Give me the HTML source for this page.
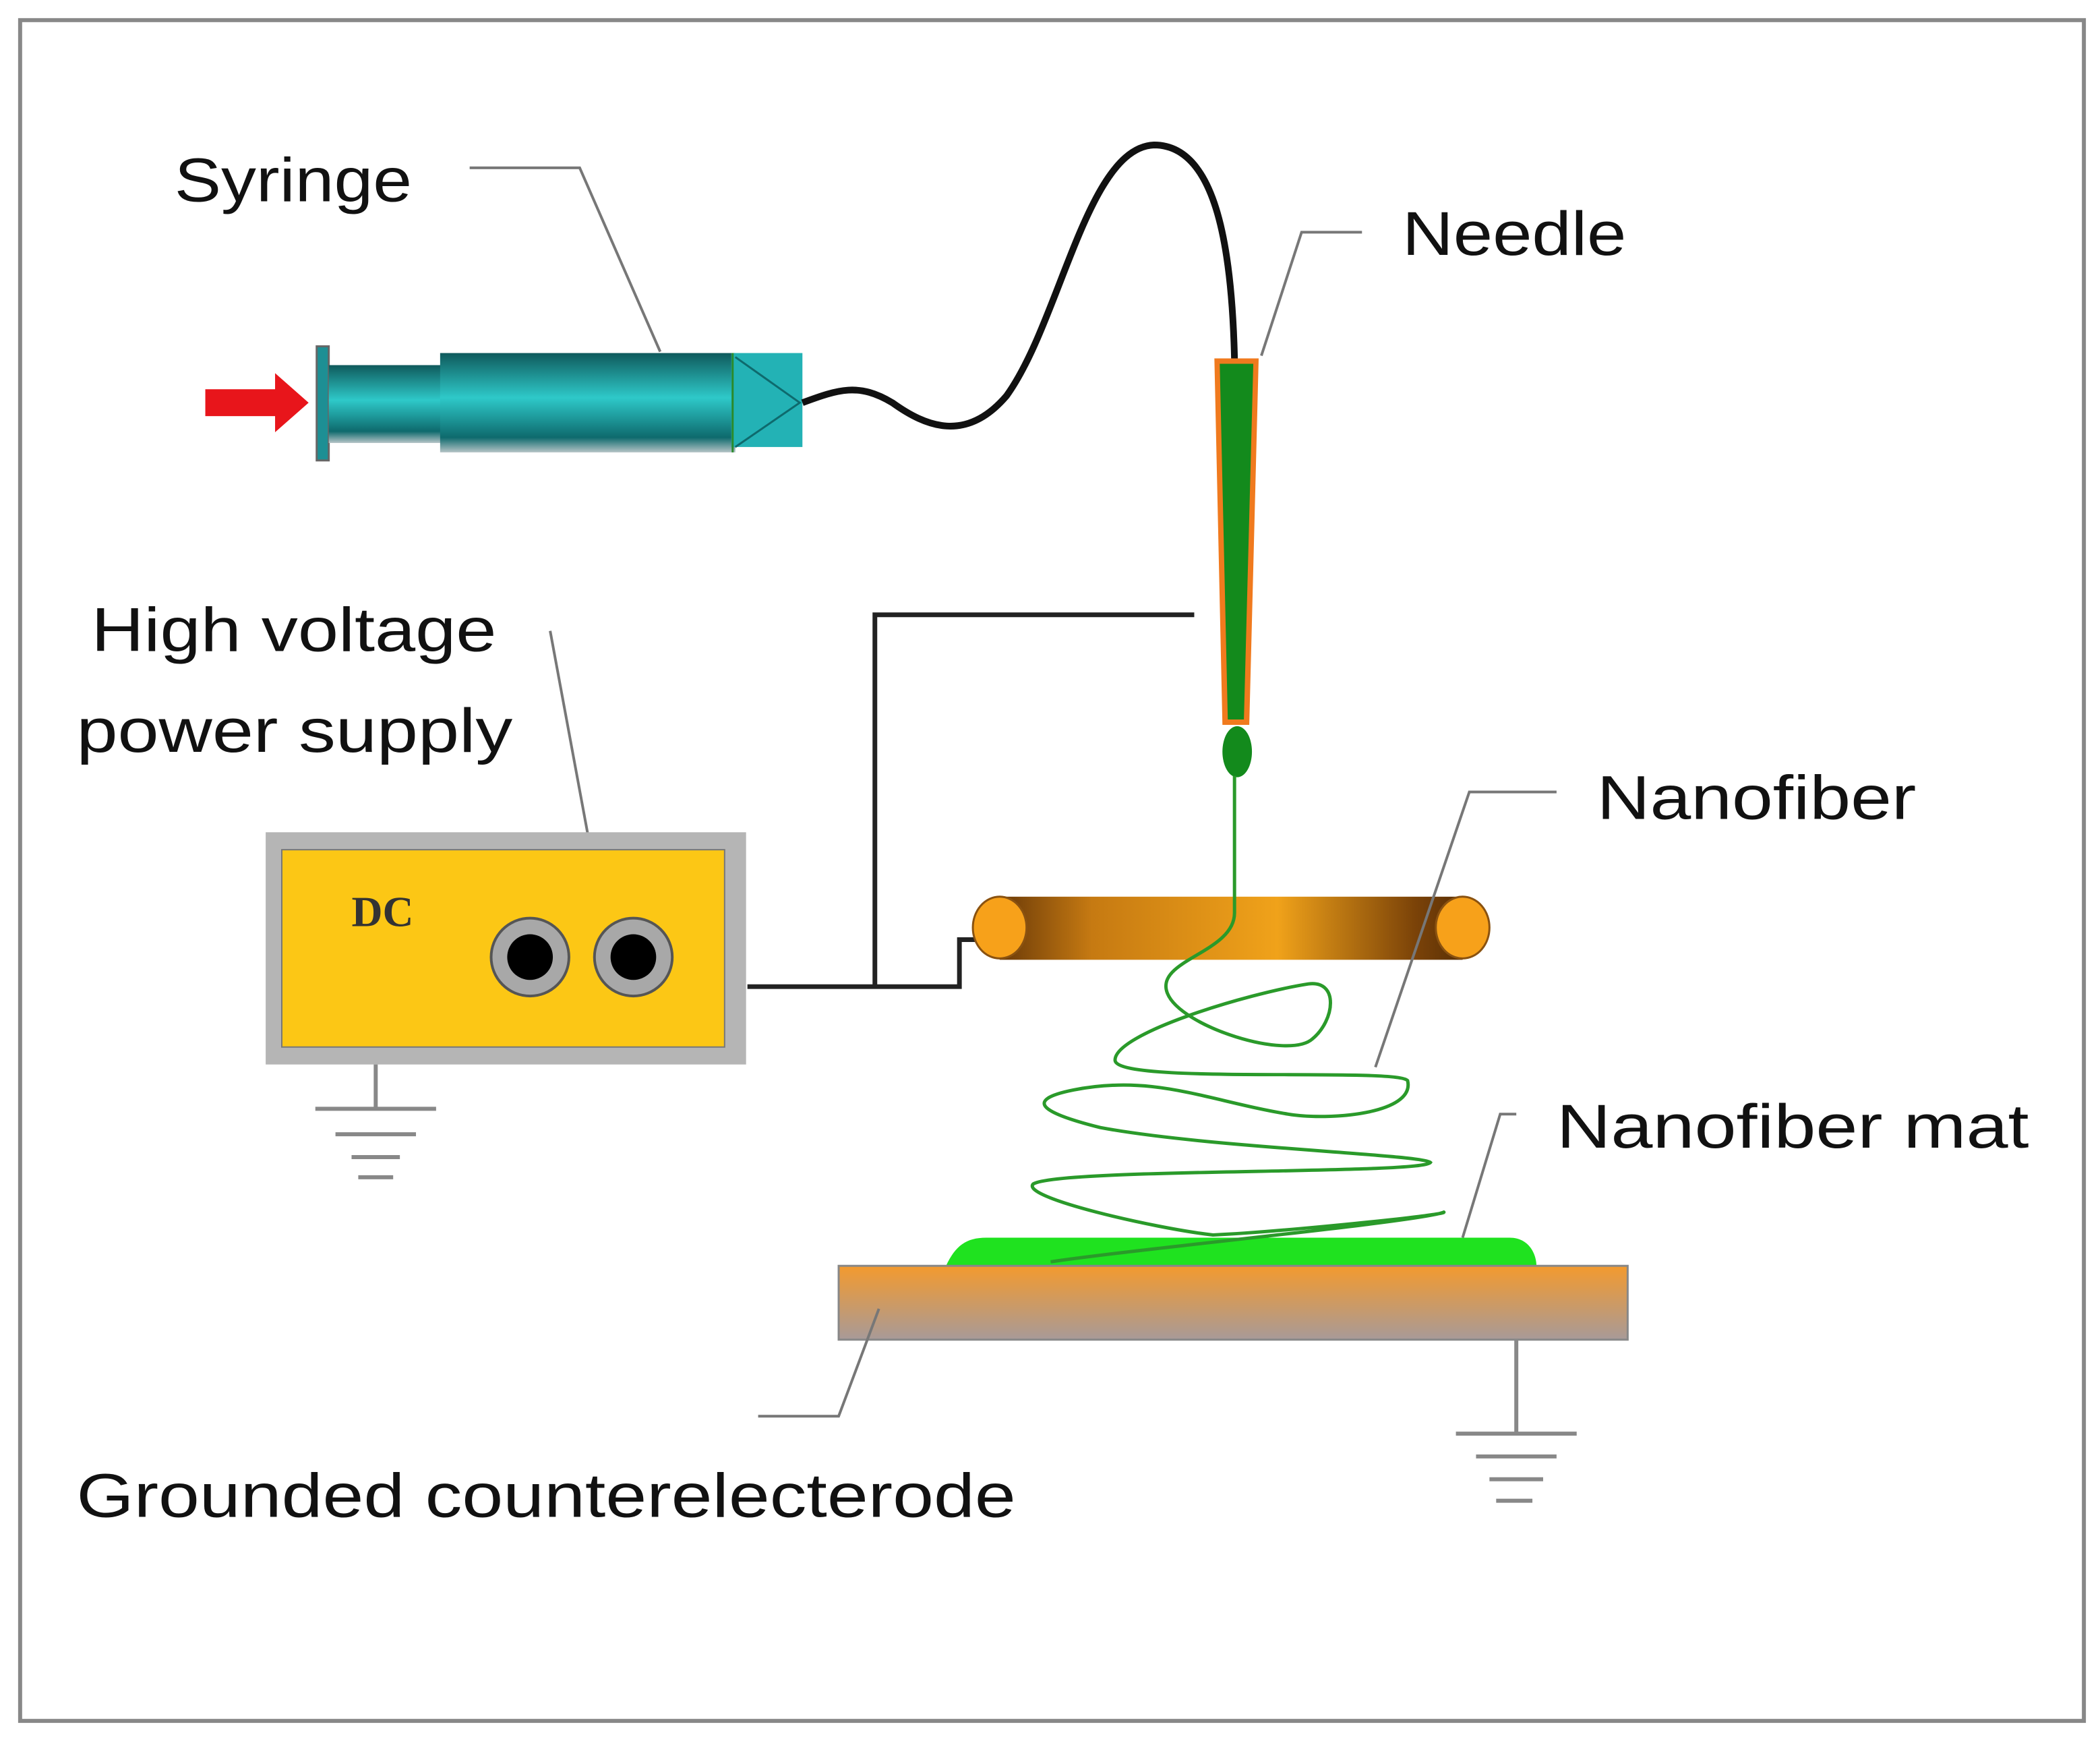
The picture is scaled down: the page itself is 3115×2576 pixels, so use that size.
<!DOCTYPE html>
<html><head><meta charset="utf-8"><style>
html,body{margin:0;padding:0;background:#fff;}
svg{display:block;}
text{font-family:"Liberation Sans",sans-serif;fill:#111;}
</style></head><body>
<svg width="3115" height="2576" viewBox="0 0 1565 1294" preserveAspectRatio="none" xmlns="http://www.w3.org/2000/svg">
<defs>
<linearGradient id="teal" x1="0" y1="0" x2="0" y2="1">
<stop offset="0" stop-color="#0f5a5c"/><stop offset="0.45" stop-color="#2ec9c9"/><stop offset="0.85" stop-color="#0e6a6d"/><stop offset="1" stop-color="#b5c3c6"/>
</linearGradient>
<linearGradient id="ring" x1="0" y1="0" x2="1" y2="0">
<stop offset="0" stop-color="#6b3a08"/><stop offset="0.2" stop-color="#c67a12"/><stop offset="0.6" stop-color="#f0a21a"/><stop offset="0.9" stop-color="#7a4208"/><stop offset="1" stop-color="#5a3006"/>
</linearGradient>
<linearGradient id="plate" x1="0" y1="0" x2="0" y2="1">
<stop offset="0" stop-color="#f39a2e"/><stop offset="1" stop-color="#a89a98"/>
</linearGradient>
</defs>
<rect x="15" y="15" width="1538" height="1267" fill="#fff" stroke="#888" stroke-width="3"/>

<!-- Syringe -->
<text x="130" y="150" font-size="46" textLength="177" lengthAdjust="spacingAndGlyphs">Syringe</text>
<polyline points="350,125 432,125 492,262" fill="none" stroke="#777" stroke-width="2"/>
<polygon points="153,290 205,290 205,278 230,300 205,322 205,310 153,310" fill="#e8151b"/>
<rect x="236" y="258" width="9" height="85" fill="#1d8f94" stroke="#666" stroke-width="1.5"/>
<rect x="245" y="272" width="85" height="58" fill="url(#teal)"/>
<rect x="328" y="263" width="220" height="74" fill="url(#teal)"/>
<rect x="545" y="263" width="53" height="70" fill="#23b2b5"/>
<polyline points="548,266 596,300 548,333" fill="none" stroke="#0e6a6d" stroke-width="1.5"/>
<line x1="546" y1="263" x2="546" y2="337" stroke="#2a8a2a" stroke-width="1.5"/>
<path d="M598,300 C625,290 640,285 665,300 C690,318 720,330 750,295 C790,240 810,110 860,108 C905,108 918,180 920,268" fill="none" stroke="#111" stroke-width="5"/>

<!-- Needle -->
<text x="1045" y="190" font-size="46" textLength="167" lengthAdjust="spacingAndGlyphs">Needle</text>
<polyline points="1015,173 970,173 940,265" fill="none" stroke="#777" stroke-width="2"/>
<polygon points="905,267 938,267 931,540 911,540" fill="#f07a1e"/>
<polygon points="909,271 934,271 927,536 915,536" fill="#138a1c"/>
<ellipse cx="922" cy="560" rx="11" ry="19" fill="#138a1c"/>

<!-- Wires -->
<polyline points="890,458 652,458 652,735" fill="none" stroke="#222" stroke-width="3.5"/>
<polyline points="557,735 715,735 715,700 730,700" fill="none" stroke="#222" stroke-width="3.5"/>

<!-- Power supply -->
<text x="68" y="485" font-size="46" textLength="302" lengthAdjust="spacingAndGlyphs">High voltage</text>
<text x="57" y="560" font-size="46" textLength="325" lengthAdjust="spacingAndGlyphs">power supply</text>
<line x1="410" y1="470" x2="440" y2="632" stroke="#777" stroke-width="2"/>
<rect x="198" y="620" width="358" height="173" fill="#b5b5b5"/>
<rect x="210" y="633" width="330" height="147" fill="#fcc715" stroke="#777" stroke-width="1"/>
<text x="262" y="690" font-size="32" font-weight="bold" style="font-family:'Liberation Serif',serif;fill:#333">DC</text>
<circle cx="395" cy="713" r="29" fill="#a8a8a8" stroke="#555" stroke-width="2"/>
<circle cx="395" cy="713" r="17" fill="#000"/>
<circle cx="472" cy="713" r="29" fill="#a8a8a8" stroke="#555" stroke-width="2"/>
<circle cx="472" cy="713" r="17" fill="#000"/>
<g stroke="#888" stroke-width="3">
<line x1="280" y1="793" x2="280" y2="825"/>
<line x1="235" y1="826" x2="325" y2="826"/>
<line x1="250" y1="845" x2="310" y2="845"/>
<line x1="262" y1="862" x2="298" y2="862"/>
<line x1="267" y1="877" x2="293" y2="877"/>
</g>

<!-- Ring -->
<rect x="745" y="668" width="345" height="47" fill="url(#ring)"/>
<ellipse cx="745" cy="691" rx="20" ry="23" fill="#f7a11a" stroke="#8a5210" stroke-width="1.5"/>
<ellipse cx="1090" cy="691" rx="20" ry="23" fill="#f7a11a" stroke="#8a5210" stroke-width="1.5"/>

<!-- Mat and plate -->
<path d="M705,943 C712,928 720,922 735,922 L1125,922 C1140,922 1145,935 1145,943 Z" fill="#1fe21f"/>
<rect x="625" y="943" width="588" height="55" fill="url(#plate)" stroke="#888" stroke-width="1.5"/>

<!-- Fiber -->
<path d="M920,578 L920,680 C920,710 860,715 870,740 C880,765 960,790 978,774 C995,760 998,730 975,733 C930,740 830,770 831,790 C832,808 1040,795 1049,805 C1055,830 990,835 960,830 C900,820 860,800 800,812 C760,820 780,830 820,840 C900,855 1060,860 1066,866 C1060,875 790,870 770,882 C760,892 860,915 904,920 C950,918 1080,905 1076,903 C1060,910 850,930 783,940" fill="none" stroke="#2a9a2a" stroke-width="2.5"/>

<!-- Labels right -->
<text x="1190" y="610" font-size="46" textLength="238" lengthAdjust="spacingAndGlyphs">Nanofiber</text>
<polyline points="1160,590 1095,590 1025,795" fill="none" stroke="#777" stroke-width="2"/>
<text x="1160" y="855" font-size="46" textLength="352" lengthAdjust="spacingAndGlyphs">Nanofiber  mat</text>
<polyline points="1130,830 1118,830 1090,922" fill="none" stroke="#777" stroke-width="2"/>

<g stroke="#888" stroke-width="3">
<line x1="1130" y1="998" x2="1130" y2="1068"/>
<line x1="1085" y1="1068" x2="1175" y2="1068"/>
<line x1="1100" y1="1085" x2="1160" y2="1085"/>
<line x1="1110" y1="1102" x2="1150" y2="1102"/>
<line x1="1115" y1="1118" x2="1142" y2="1118"/>
</g>

<text x="57" y="1130" font-size="46" textLength="700" lengthAdjust="spacingAndGlyphs">Grounded  counterelecterode</text>
<polyline points="565,1055 625,1055 655,975" fill="none" stroke="#777" stroke-width="2"/>
</svg>
</body></html>
